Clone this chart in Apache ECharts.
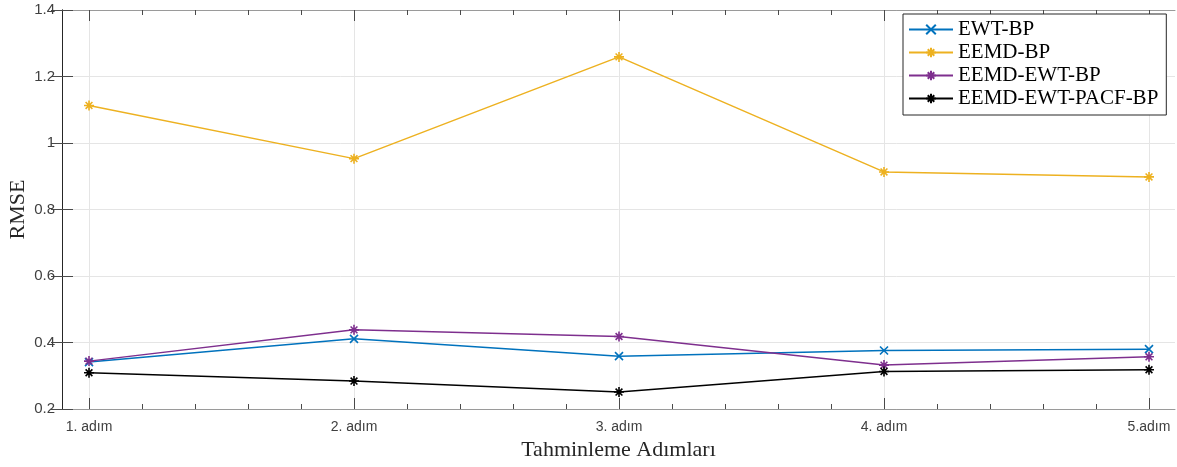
<!DOCTYPE html>
<html>
<head>
<meta charset="utf-8">
<script src="https://cdn.jsdelivr.net/npm/echarts@6/dist/echarts.min.js"></script>
<style>
  html, body { margin: 0; padding: 0; background: #fff; }
  #chart { width: 1177px; height: 467px; }
</style>
</head>
<body>
<div id="chart"></div>
<script>
// steps on the x axis
const categories = ['1. adım', '2. adım', '3. adım', '4. adım', '5.adım'];

// RMSE per step
const ewtBp = [0.341, 0.411, 0.359, 0.376, 0.380];
const eemdBp = [1.113, 0.953, 1.259, 0.913, 0.898];
const eemdEwtBp = [0.344, 0.438, 0.418, 0.332, 0.357];
const eemdEwtPacfBp = [0.309, 0.284, 0.251, 0.313, 0.318];

const COLOR = {
  ewt: '#0072BD',
  eemd: '#EDB120',
  eemdEwt: '#7E2F8E',
  pacf: '#000000'
};

const AXIS_DARK = '#262626';
const TICK = '#4a4a4a';
const GRID_LINE = '#e5e5e5';

// matlab style markers
const CROSS = 'path://M0,0L10,10M10,0L0,10';
const STAR = 'path://M5,0L5,10M0,5L10,5M1.6,1.6L8.4,8.4M8.4,1.6L1.6,8.4';

function toPoints(values) {
  return values.map((v, i) => [i + 1, v]);
}

function makeSeries(name, values, color, symbol, size) {
  return {
    name: name,
    type: 'line',
    xAxisIndex: 2,
    yAxisIndex: 2,
    data: toPoints(values),
    symbol: symbol,
    symbolSize: size,
    showAllSymbol: true,
    lineStyle: { color: color, width: 1.5 },
    itemStyle: { color: color, borderColor: color, borderWidth: 1.6 },
    emphasis: { disabled: true },
    animation: false,
    z: 5
  };
}

const chart = echarts.init(document.getElementById('chart'));

const option = {
  backgroundColor: '#fff',
  animation: false,
  grid: [
    // outer box
    { left: 62, right: 2, top: 10, bottom: 58, containLabel: false, outerBoundsMode: 'none' },
    // inner area where 1..5 sits
    { left: 89, right: 28, top: 10, bottom: 58, containLabel: false, outerBoundsMode: 'none' }
  ],
  legend: {
    orient: 'vertical',
    left: 903,
    top: 14,
    itemWidth: 44,
    itemHeight: 12,
    itemGap: 2,
    padding: [5, 8, 6, 5],
    borderColor: AXIS_DARK,
    borderWidth: 1,
    backgroundColor: '#fff',
    textStyle: { fontFamily: 'Liberation Serif', fontSize: 21, color: '#000' },
    data: ['EWT-BP', 'EEMD-BP', 'EEMD-EWT-BP', 'EEMD-EWT-PACF-BP']
  },
  xAxis: [
    // 0: outer bottom line
    {
      gridIndex: 0, type: 'value', min: 0, max: 1, position: 'bottom',
      axisLine: { show: true, lineStyle: { color: '#9a9a9a', width: 1 } },
      axisTick: { show: false }, axisLabel: { show: false }, splitLine: { show: false },
      name: 'Tahminleme Adımları', nameLocation: 'middle', nameGap: 30, nameMoveOverlap: false,
      nameTextStyle: { fontFamily: 'Liberation Serif', fontSize: 22, color: AXIS_DARK }
    },
    // 1: outer top line
    {
      gridIndex: 0, type: 'value', min: 0, max: 1, position: 'top',
      axisLine: { show: true, lineStyle: { color: '#9a9a9a', width: 1 } },
      axisTick: { show: false }, axisLabel: { show: false }, splitLine: { show: false }
    },
    // 2: major steps, labels and vertical grid
    {
      gridIndex: 1, type: 'value', min: 1, max: 5, interval: 1, position: 'bottom',
      axisLine: { show: false },
      axisTick: { show: true, inside: true, length: 11, lineStyle: { color: TICK } },
      axisLabel: {
        show: true, margin: 11, fontFamily: 'Liberation Sans', fontSize: 14, color: '#404040',
        formatter: v => categories[Math.round(v) - 1] || ''
      },
      splitLine: { show: true, lineStyle: { color: GRID_LINE, width: 1 } }
    },
    // 3: minor ticks bottom
    {
      gridIndex: 1, type: 'value', min: 1, max: 5, interval: 0.2, position: 'bottom',
      axisLine: { show: false },
      axisTick: { show: true, inside: true, length: 5, lineStyle: { color: TICK } },
      axisLabel: { show: false }, splitLine: { show: false }
    },
    // 4: major ticks top
    {
      gridIndex: 1, type: 'value', min: 1, max: 5, interval: 1, position: 'top',
      axisLine: { show: false },
      axisTick: { show: true, inside: true, length: 11, lineStyle: { color: TICK } },
      axisLabel: { show: false }, splitLine: { show: false }
    },
    // 5: minor ticks top
    {
      gridIndex: 1, type: 'value', min: 1, max: 5, interval: 0.2, position: 'top',
      axisLine: { show: false },
      axisTick: { show: true, inside: true, length: 5, lineStyle: { color: TICK } },
      axisLabel: { show: false }, splitLine: { show: false }
    }
  ],
  yAxis: [
    // 0: left axis
    {
      gridIndex: 0, type: 'value', min: 0.2, max: 1.4, interval: 0.2, position: 'left',
      axisLine: { show: true, lineStyle: { color: AXIS_DARK, width: 1 } },
      axisTick: { show: true, inside: true, length: 11, lineStyle: { color: TICK } },
      axisLabel: {
        show: true, margin: 7, fontFamily: 'Liberation Sans', fontSize: 15, color: '#404040',
        formatter: v => String(Math.round(v * 10) / 10)
      },
      splitLine: { show: true, lineStyle: { color: GRID_LINE, width: 1 } },
      name: 'RMSE', nameLocation: 'middle', nameGap: 33, nameRotate: 90, nameMoveOverlap: false,
      nameTextStyle: { fontFamily: 'Liberation Serif', fontSize: 22, color: AXIS_DARK }
    },
    // 1: right axis
    {
      gridIndex: 0, type: 'value', min: 0.2, max: 1.4, interval: 0.2, position: 'right',
      axisLine: { show: true, lineStyle: { color: AXIS_DARK, width: 1 } },
      axisTick: { show: true, inside: true, length: 11, lineStyle: { color: TICK } },
      axisLabel: { show: false }, splitLine: { show: false }
    },
    // 2: data axis for inner grid
    {
      gridIndex: 1, type: 'value', min: 0.2, max: 1.4, show: false
    }
  ],
  series: [
    makeSeries('EWT-BP', ewtBp, COLOR.ewt, CROSS, 8),
    makeSeries('EEMD-BP', eemdBp, COLOR.eemd, STAR, 10),
    makeSeries('EEMD-EWT-BP', eemdEwtBp, COLOR.eemdEwt, STAR, 10),
    makeSeries('EEMD-EWT-PACF-BP', eemdEwtPacfBp, COLOR.pacf, STAR, 10)
  ]
};

chart.setOption(option);
window.addEventListener('resize', () => { chart.resize(); });
</script>
</body>
</html>
